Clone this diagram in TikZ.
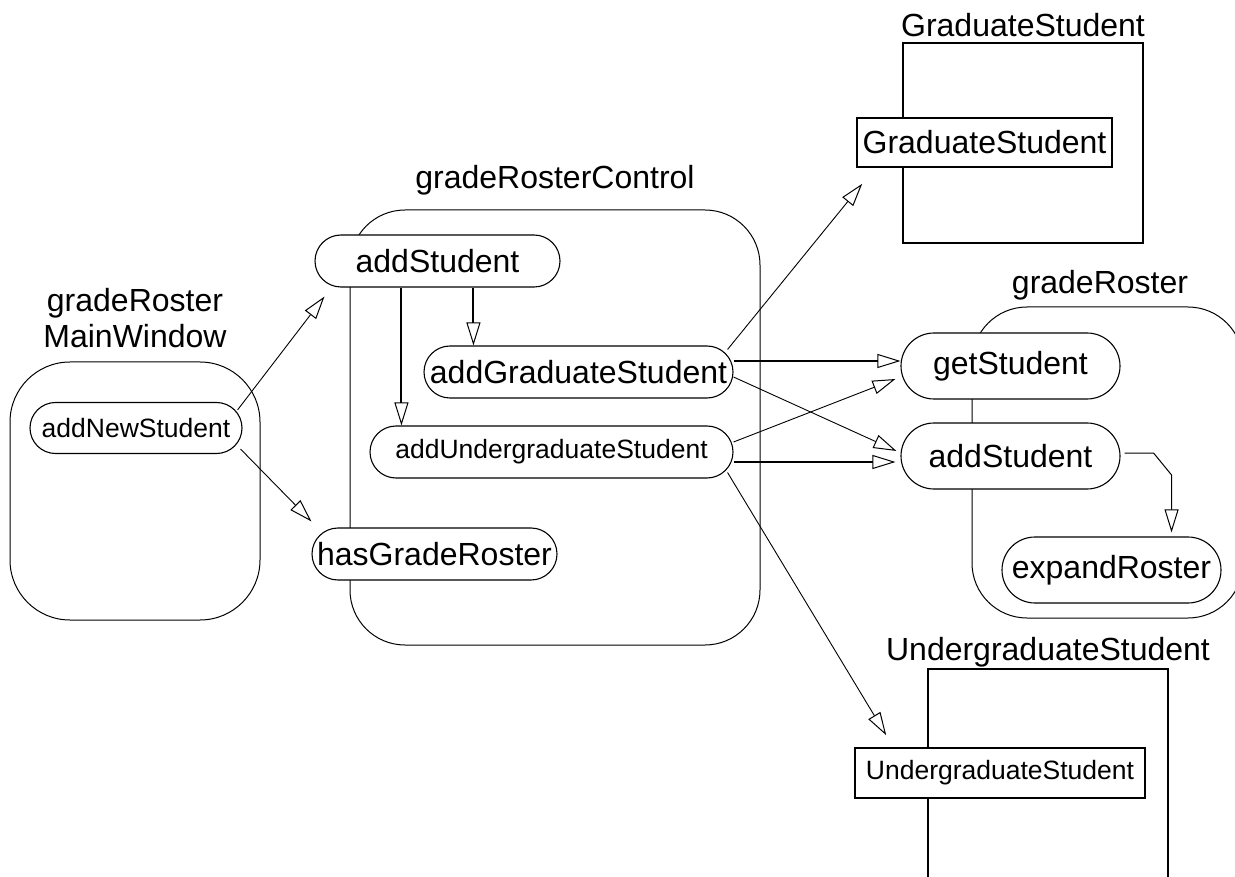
\documentclass[tikz,border=0pt]{standalone}
\usepackage{fontspec}
\setmainfont{Liberation Sans}
\usetikzlibrary{arrows.meta,calc}
\begin{document}
\begin{tikzpicture}[x=1pt,y=-1pt,
  big/.style={font=\fontsize{32}{36}\selectfont},
  small/.style={font=\fontsize{26.5}{30}\selectfont},
  container/.style={draw, line width=1pt, rounded corners=#1, inner sep=0pt},
  op/.style={draw, fill=white, line width=1.1pt, inner sep=0pt},
  cls/.style={draw, line width=1.6pt, inner sep=0pt},
  clsin/.style={draw, fill=white, line width=1.6pt, inner sep=0pt},
  lbl/.style={inner sep=0pt, align=center},
  tip/.style={-{Triangle[open,length=23pt,width=14pt,line width=1pt]}},
  thinarr/.style={line width=0.9pt, tip},
  thickarr/.style={line width=2pt, tip},
]
\useasboundingbox (0,0) rectangle (1235,877);

% containers
\node[container=60pt, minimum width=250pt, minimum height=258pt] (mw) at (135,491) {};
\node[container=55pt, minimum width=410pt, minimum height=435pt] (ctl) at (555,427.5) {};
\node[container=55pt, minimum width=271pt, minimum height=311pt] (gr) at (1107.5,462.5) {};

% container labels
\node[lbl, big] (mwl) at (135,318) {gradeRoster\\MainWindow};
\node[lbl, big] (ctll) at (555,180) {gradeRosterControl};
\node[lbl, big] (grl) at (1100,285) {gradeRoster};
\node[lbl, big] (gcl) at (1023,25) {GraduateStudent};
\node[lbl, big] (ucl) at (1048,652) {UndergraduateStudent};

% class boxes
\node[cls, minimum width=240pt, minimum height=200pt] (gcls) at (1023,143) {};
\node[cls, minimum width=240pt, minimum height=231pt] (ucls) at (1048,784.5) {};
\node[clsin, big, minimum width=255pt, minimum height=49pt] (gin) at (984.5,142.5) {GraduateStudent};
\node[clsin, small, minimum width=290pt, minimum height=50pt] (uin) at (1000,773) {UndergraduateStudent};

% operations
\node[op, small, rounded corners=25.5pt, minimum width=212pt, minimum height=51pt] (ans) at (136,428) {addNewStudent};
\node[op, big, rounded corners=26pt, minimum width=245pt, minimum height=52pt] (ast) at (437.5,261) {addStudent};
\node[op, big, rounded corners=26pt, minimum width=309pt, minimum height=52pt] (agrad) at (578.5,372) {addGraduateStudent};
\node[op, small, rounded corners=26pt, minimum width=363pt, minimum height=52pt] (aund) at (551.5,452) {addUndergraduateStudent};
\node[op, big, rounded corners=26pt, minimum width=245pt, minimum height=52pt] (hgr) at (434.5,554) {hasGradeRoster};
\node[op, big, rounded corners=33pt, minimum width=219pt, minimum height=66pt] (gets) at (1010.5,366) {getStudent};
\node[op, big, rounded corners=33pt, minimum width=219pt, minimum height=66pt] (ars) at (1010.5,456) {addStudent};
\node[op, big, rounded corners=33pt, minimum width=219pt, minimum height=66pt] (er) at (1111.5,570) {expandRoster};

% connectors
\draw[thinarr] ([xshift=-5pt,yshift=-8pt]ans.north east) -- ([xshift=10pt,yshift=-9pt]ast.south west);
\draw[thinarr] ([xshift=-2pt,yshift=5pt]ans.south east) -- ([yshift=6pt]hgr.north west);

\coordinate (t1) at ([xshift=50pt]agrad.north west);
\coordinate (t2) at ([xshift=32pt]aund.north west);
\draw[thickarr] (t1 |- ast.south) -- (t1);
\draw[thickarr] (t2 |- ast.south) -- (t2);

\draw[thickarr] ([yshift=11pt]agrad.east) -- ([yshift=5pt]gets.west);
\draw[thinarr] ([yshift=-5pt]agrad.east) -- ([xshift=-4pt,yshift=5pt]ars.west);
\draw[thinarr] ([yshift=10pt]aund.east) -- ([xshift=-5pt,yshift=-13pt]gets.west);
\draw[thickarr] ([yshift=-10pt]aund.east) -- ([xshift=-5pt,yshift=-6pt]ars.west);
\draw[thinarr] ([xshift=-6pt,yshift=-4pt]agrad.north east) -- ([xshift=6pt,yshift=-16pt]gin.south west);
\draw[thinarr] ([xshift=-6pt,yshift=6pt]aund.south east) -- ([xshift=32pt,yshift=12pt]uin.north west);

\coordinate (t3) at ([xshift=-50pt,yshift=4pt]er.north east);
\draw[line width=1pt, tip] ([xshift=4pt,yshift=3pt]ars.east) -- ++(29,0) -- ++(18,22) -- (t3);
\end{tikzpicture}
\end{document}
